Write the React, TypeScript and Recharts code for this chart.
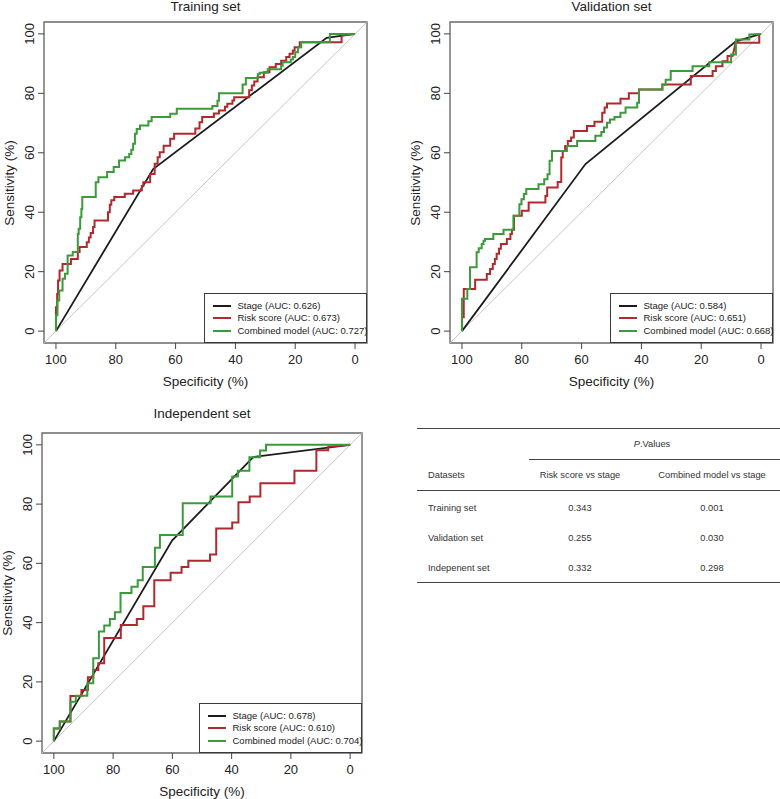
import React from 'react';
import { LineChart, Line, XAxis, YAxis, ReferenceArea, ReferenceLine } from 'recharts';

const FONT = '"Liberation Sans", Arial, Helvetica, sans-serif';

// ---------- data ----------
const tickValues = [0, 20, 40, 60, 80, 100];
const seriesNames = ['Stage', 'Risk score', 'Combined model'];
const seriesColors = ['#1c1c1c', '#b0292e', '#3b9a3b'];

const trainingAUC = ['0.626', '0.673', '0.727'];
const validationAUC = ['0.584', '0.651', '0.668'];
const independentAUC = ['0.678', '0.610', '0.704'];

// [specificity, sensitivity]
const trainingStage = [[100, 0], [67.5, 54.5], [9.5, 98.7], [0, 100]];
const trainingRisk = [
  [100, 0], [100, 8], [99.6, 8], [99.6, 12.5], [99.3, 12.5], [99.3, 17], [98.8, 17], [98.8, 20.4],
  [97.8, 20.4], [97.8, 22.6], [95, 22.6], [95, 24.3], [92.7, 24.3], [92.7, 26.6], [92.1, 26.6],
  [92.1, 28.3], [89.7, 28.3], [89.7, 29.9], [89, 29.9], [89, 31.5], [88.4, 31.5], [88.4, 33],
  [87.6, 33], [87.6, 35], [87.1, 35], [87.1, 37.2], [82.6, 37.2], [82.6, 40], [82, 40], [82, 42.5],
  [81.5, 42.5], [81.5, 44], [80.5, 44], [80.5, 45.1], [77, 45.1], [77, 46.2], [74.2, 46.2],
  [74.2, 47.3], [71.3, 47.3], [71.3, 48.8], [70.8, 48.8], [70.8, 50.1], [68.5, 50.1], [68.5, 52.9],
  [67, 52.9], [67, 56.3], [66, 56.3], [66, 58.5], [65.3, 58.5], [65.3, 60.2], [64, 60.2], [64, 62.4],
  [61.8, 62.4], [61.8, 64.7], [60.5, 64.7], [60.5, 66.4], [53.4, 66.4], [53.4, 68.2], [52, 68.2],
  [52, 70.3], [51.1, 70.3], [51.1, 72], [47.2, 72], [47.2, 73.2], [45.5, 73.2], [45.5, 74.2],
  [43.5, 74.2], [43.5, 75.5], [42.7, 75.5], [42.7, 76.5], [41, 76.5], [41, 77.6], [40.4, 77.6],
  [40.4, 78.7], [35.4, 78.7], [35.4, 81], [34.5, 81], [34.5, 82.6], [33.7, 82.6], [33.7, 84],
  [32.6, 84], [32.6, 85.4], [30.5, 85.4], [30.5, 87.1], [28.6, 87.1], [28.6, 88.8], [26.5, 88.8],
  [26.5, 89.9], [24.7, 89.9], [24.7, 91], [23, 91], [23, 92.2], [21.9, 92.2], [21.9, 93.3],
  [20.8, 93.3], [20.8, 94.4], [20.2, 94.4], [20.2, 95.5], [18.5, 95.5], [18.5, 97.2], [4.5, 97.2],
  [4.5, 99.5], [0, 100],
];
const trainingCombined = [
  [100, 0], [100, 5.3], [99.5, 5.3], [99.5, 10.3], [98.9, 10.3], [98.9, 13.7], [97.8, 13.7],
  [97.8, 17.6], [97, 17.6], [97, 19.3], [96.1, 19.3], [96.1, 25.4], [94.4, 25.4], [94.4, 26.6],
  [92.7, 26.6], [92.7, 32.7], [92.4, 32.7], [92.4, 34.4], [91.9, 34.4], [91.9, 38.3], [91.5, 38.3],
  [91.5, 41.1], [91.2, 41.1], [91.2, 45.1], [86.7, 45.1], [86.7, 50.1], [85.8, 50.1], [85.8, 51.8],
  [82.9, 51.8], [82.9, 53.5], [80.7, 53.5], [80.7, 55.2], [78.9, 55.2], [78.9, 57.4], [76.9, 57.4],
  [76.9, 58.5], [75.5, 58.5], [75.5, 59.6], [74.8, 59.6], [74.8, 61], [74.2, 61], [74.2, 63],
  [73.6, 63], [73.6, 66.4], [73, 66.4], [73, 68], [71.9, 68], [71.9, 69.2], [69.1, 69.2],
  [69.1, 70.6], [68, 70.6], [68, 72], [61.8, 72], [61.8, 73.1], [59.6, 73.1], [59.6, 74.8],
  [47.7, 74.8], [47.7, 75.7], [46, 75.7], [46, 77.5], [45.5, 77.5], [45.5, 80], [37.6, 80],
  [37.6, 83], [36.5, 83], [36.5, 85.2], [32.5, 85.2], [32.5, 86.4], [31.9, 86.4], [31.9, 86.9],
  [29.2, 86.9], [29.2, 88.1], [24.7, 88.1], [24.7, 89.3], [24.2, 89.3], [24.2, 90.5], [21.5, 90.5],
  [21.5, 91.4], [20.8, 91.4], [20.8, 92.2], [20, 92.2], [20, 93.8], [19.1, 93.8], [19.1, 95.5],
  [18, 95.5], [18, 97.2], [8.4, 97.2], [8.4, 100], [0, 100],
];

const validationStage = [[100, 0], [58.7, 56.2], [8.4, 97.5], [0, 100]];
const validationRisk = [
  [100, 0], [100, 4.7], [99.4, 4.7], [99.4, 14.2], [95.6, 14.2], [95.6, 17.3], [91.7, 17.3],
  [91.7, 19.2], [90.6, 19.2], [90.6, 20.9], [89.7, 20.9], [89.7, 22.6], [89, 22.6], [89, 24.3],
  [88.4, 24.3], [88.4, 26], [87.6, 26], [87.6, 27.7], [87, 27.7], [87, 29.3], [85, 29.3], [85, 31],
  [83.8, 31], [83.8, 32.7], [83.3, 32.7], [83.3, 34.1], [82.6, 34.1], [82.6, 38.8], [80, 38.8],
  [80, 40.5], [77.7, 40.5], [77.7, 43.3], [72.1, 43.3], [72.1, 45.5], [71.5, 45.5], [71.5, 48.3],
  [68, 48.3], [68, 50.2], [66.8, 50.2], [66.8, 58.4], [66.3, 58.4], [66.3, 60.6], [65.5, 60.6],
  [65.5, 62.3], [64.6, 62.3], [64.6, 64], [63.5, 64], [63.5, 65.1], [62.6, 65.1], [62.6, 67.3],
  [58.2, 67.3], [58.2, 69], [55.7, 69], [55.7, 70.4], [53.1, 70.4], [53.1, 73.5], [52.3, 73.5],
  [52.3, 75.2], [51.5, 75.2], [51.5, 76.6], [47, 76.6], [47, 78.2], [44.2, 78.2], [44.2, 80],
  [40.8, 80], [40.8, 81.3], [33, 81.3], [33, 83], [23.5, 83], [23.5, 85.8], [16.2, 85.8],
  [16.2, 87.5], [15.1, 87.5], [15.1, 89.1], [12.9, 89.1], [12.9, 90.8], [11.2, 90.8], [11.2, 92.6],
  [9.5, 92.6], [8.5, 97], [0.6, 97], [0.6, 99.8], [0, 100],
];
const validationCombined = [
  [100, 0], [100, 10.9], [98.2, 10.9], [98.2, 14.2], [97.3, 14.2], [97.3, 21.5], [95.1, 21.5],
  [95.1, 26.5], [94.4, 26.5], [94.4, 27.9], [93.4, 27.9], [93.4, 29.3], [92.8, 29.3], [92.8, 30.4],
  [92.3, 30.4], [92.3, 31], [89.5, 31], [89.5, 32.7], [86.1, 32.7], [86.1, 34.1], [82.8, 34.1],
  [82.8, 38.8], [80.8, 38.8], [80.8, 42.7], [80.1, 42.7], [80.1, 44.4], [79.3, 44.4], [79.3, 46.1],
  [78.5, 46.1], [78.5, 47.8], [74.4, 47.8], [74.4, 49.4], [72.5, 49.4], [72.5, 51.1], [71.4, 51.1],
  [71.4, 52.8], [70.7, 52.8], [70.7, 57.3], [69.9, 57.3], [69.9, 60.6], [64.9, 60.6], [64.9, 62.3],
  [61.5, 62.3], [61.5, 64], [55.4, 64], [55.4, 65.7], [53.4, 65.7], [53.4, 67], [52.5, 67],
  [52.5, 68.5], [51.5, 68.5], [51.5, 70.1], [50.5, 70.1], [50.5, 71.2], [49, 71.2], [49, 72],
  [47, 72], [47, 73.5], [45.3, 73.5], [45.3, 75.2], [41.4, 75.2], [41.4, 76.8], [40.8, 76.8],
  [40.8, 81.3], [33, 81.3], [33, 82.9], [31.9, 82.9], [31.9, 84.6], [30.2, 84.6], [30.2, 87.5],
  [22.9, 87.5], [22.9, 89.1], [17.3, 89.1], [17.3, 90.5], [10, 90.5], [10, 93.1], [8.4, 93.1],
  [8.4, 98.1], [3.9, 98.1], [3.9, 99.8], [0, 100],
];

const independentStage = [[100, 0], [60.1, 67.7], [32.7, 95.9], [0, 100]];
const independentRisk = [
  [100, 0], [100, 4.3], [98, 4.3], [98, 6.6], [94.4, 6.6], [94.4, 15.2], [90.7, 15.2], [90.7, 17.3],
  [88.5, 17.3], [88.5, 21.6], [86.7, 21.6], [86.7, 24], [85, 24], [85, 26.3], [83, 26.3], [83, 34.8],
  [77.4, 34.8], [77.4, 39.2], [72, 39.2], [72, 41.2], [69.8, 41.2], [69.8, 45.5], [66.1, 45.5],
  [66.1, 54.3], [60.6, 54.3], [60.6, 56.8], [56.9, 56.8], [56.9, 58.8], [54.6, 58.8], [54.6, 60.9],
  [47.3, 60.9], [47.3, 63], [45.2, 63], [45.2, 71.8], [39.8, 71.8], [39.8, 73.8], [37.7, 73.8],
  [37.7, 80.6], [33.9, 80.6], [33.9, 82.6], [30.3, 82.6], [30.3, 87], [18.8, 87], [18.8, 91.3],
  [11.4, 91.3], [11.4, 98.2], [7.4, 98.2], [7.4, 99.4], [0, 100],
];
const independentCombined = [
  [100, 0], [100, 4.3], [98, 4.3], [98, 6.6], [94.4, 6.6], [94.4, 13.3], [92.6, 13.3], [92.6, 15.3],
  [88.7, 15.3], [88.7, 19.5], [86.7, 19.5], [86.7, 28], [84.8, 28], [84.8, 37], [83, 37], [83, 39],
  [81.1, 39], [81.1, 41.2], [79.4, 41.2], [79.4, 43.5], [77.5, 43.5], [77.5, 50], [73.8, 50],
  [73.8, 52.1], [71.7, 52.1], [71.7, 54.3], [70, 54.3], [70, 58.8], [65.9, 58.8], [65.9, 65.3],
  [64.2, 65.3], [64.2, 69.6], [56.5, 69.6], [56.5, 80.3], [47.1, 80.3], [47.1, 82.6], [39.8, 82.6],
  [39.8, 89.3], [37.9, 89.3], [37.9, 91.3], [34, 91.3], [34, 95.8], [30.4, 95.8], [30.4, 98.1],
  [28.4, 98.1], [28.4, 100], [0, 100],
];

const tableDatasets = ['Training set', 'Validation set', 'Indepenent set'];
const tableRiskVsStage = ['0.343', '0.255', '0.332'];
const tableCombinedVsStage = ['0.001', '0.030', '0.298'];

// ---------- helpers ----------
const toPoints = (pairs: number[][]) => pairs.map(([spec, sens]) => ({ spec, sens }));

type TextProps = {
  cx: number; cy: number; text: React.ReactNode; size: number; rotate?: boolean;
  color?: string; align?: 'center' | 'left'; lh?: number;
};
function PlacedText({ cx, cy, text, size, rotate, color = '#222', align = 'center', lh }: TextProps) {
  const w = 300;
  const h = lh ?? Math.round(size * 1.3);
  const left = align === 'center' ? cx - w / 2 : cx;
  return (
    <div
      style={{
        position: 'absolute', left, top: cy - h / 2, width: w, height: h, lineHeight: `${h}px`,
        fontSize: size, fontFamily: FONT, color, textAlign: align, whiteSpace: 'nowrap',
        transform: rotate ? 'rotate(-90deg)' : undefined, transformOrigin: 'center center',
      }}
    >
      {text}
    </div>
  );
}

const XTick = (props: any) => {
  const { x, y, payload } = props;
  return (
    <text x={x} y={y + 14.5} textAnchor="middle" fontSize={13} fill="#222" fontFamily={FONT}>
      {payload.value}
    </text>
  );
};
const YTick = (props: any) => {
  const { x, y, payload } = props;
  const bx = x - 4;
  return (
    <text x={bx} y={y} textAnchor="middle" fontSize={13} fill="#222" fontFamily={FONT}
      transform={`rotate(-90 ${bx} ${y})`}>
      {payload.value}
    </text>
  );
};

type PanelLayout = {
  left: number; top: number; w: number; h: number; mTop: number; mRight: number; yW: number; xH: number;
  titleY: number;
};

function RocPanel({ title, curves, aucs, L }: { title: string; curves: number[][][]; aucs: string[]; L: PanelLayout }) {
  const boxL = L.left + L.yW;
  const boxR = L.left + L.w - L.mRight;
  const boxT = L.top + L.mTop;
  const boxB = L.top + L.h - L.xH;
  const cx = (boxL + boxR) / 2;
  const cy = (boxT + boxB) / 2;
  const legW = 163;
  const legH = 50;
  const legL = boxR - legW;
  const legT = boxB - legH;
  return (
    <>
      <div style={{ position: 'absolute', left: L.left, top: L.top }}>
        <LineChart width={L.w} height={L.h} margin={{ top: L.mTop, right: L.mRight, bottom: 0, left: 0 }}>
          <XAxis dataKey="spec" type="number" domain={[-4, 104]} reversed allowDataOverflow
            ticks={tickValues} interval={0} height={L.xH} axisLine={false}
            tickLine={{ stroke: '#444' }} tickSize={6} tickMargin={0} tick={XTick} />
          <YAxis dataKey="sens" type="number" domain={[-4, 104]} allowDataOverflow
            ticks={tickValues} interval={0} width={L.yW} axisLine={false}
            tickLine={{ stroke: '#444' }} tickSize={6} tickMargin={0} tick={YTick} />
          <ReferenceLine segment={[{ x: 104, y: -4 }, { x: -4, y: 104 }]} stroke="#c6c6c6"
            strokeWidth={1} ifOverflow="visible" />
          {curves.map((c, i) => (
            <Line key={seriesNames[i]} data={toPoints(c)} dataKey="sens" type="linear"
              stroke={seriesColors[i]} strokeWidth={i === 0 ? 1.8 : 2} dot={false} activeDot={false}
              isAnimationActive={false} />
          ))}
          <ReferenceArea x1={-4} x2={104} y1={-4} y2={104} fill="none" fillOpacity={0}
            stroke="#6a6a6a" strokeWidth={1.4} ifOverflow="visible" />
        </LineChart>
      </div>
      <PlacedText cx={cx} cy={L.titleY} text={title} size={13.5} lh={14} />
      <PlacedText cx={cx} cy={boxB + 38.7} text="Specificity (%)" size={13.5} />
      <PlacedText cx={boxL - 34} cy={cy} text="Sensitivity (%)" size={13.5} rotate />
      <div style={{
        position: 'absolute', left: legL, top: legT, width: legW, height: legH,
        border: '1px solid #3a3a3a', boxSizing: 'border-box', background: '#fff',
      }}>
        {seriesNames.map((n, i) => {
          const ry = 11.6 + i * 12.8;
          return (
            <React.Fragment key={n}>
              <div style={{
                position: 'absolute', left: 8, top: ry - 1, width: 18, height: 0,
                borderTop: `2px solid ${seriesColors[i]}`,
              }} />
              <PlacedText cx={32.5} cy={ry} text={`${n} (AUC: ${aucs[i]})`} size={9.5} align="left" />
            </React.Fragment>
          );
        })}
      </div>
    </>
  );
}

function PTable() {
  const line = (y: number, x1: number, x2: number) => (
    <div style={{ position: 'absolute', left: x1, top: y - 0.75, width: x2 - x1, height: 0, borderTop: '1.5px solid #444' }} />
  );
  const rowY = [508, 538, 568];
  return (
    <>
      {line(429, 417, 780)}
      {line(460, 529, 780)}
      {line(491, 417, 780)}
      {line(583, 417, 780)}
      <PlacedText cx={652} cy={444} size={9.3} color="#333" text={<span><i>P</i>.Values</span>} />
      <PlacedText cx={428} cy={475} size={9.3} color="#333" text="Datasets" align="left" />
      <PlacedText cx={580} cy={475} size={9.3} color="#333" text="Risk score vs stage" />
      <PlacedText cx={712} cy={475} size={9.3} color="#333" text="Combined model vs stage" />
      {tableDatasets.map((d, i) => (
        <React.Fragment key={d}>
          <PlacedText cx={428} cy={rowY[i]} size={9.3} color="#333" text={d} align="left" />
          <PlacedText cx={580} cy={rowY[i]} size={9.3} color="#333" text={tableRiskVsStage[i]} />
          <PlacedText cx={712} cy={rowY[i]} size={9.3} color="#333" text={tableCombinedVsStage[i]} />
        </React.Fragment>
      ))}
    </>
  );
}

export default function App() {
  return (
    <div style={{ position: 'absolute', left: 0, top: 0, width: 780, height: 799, background: '#fff', overflow: 'hidden' }}>
      <RocPanel title="Training set" curves={[trainingStage, trainingRisk, trainingCombined]} aucs={trainingAUC}
        L={{ left: 0, top: 0, w: 390, h: 399, mTop: 22, mRight: 23, yW: 44, xH: 56, titleY: 7 }} />
      <RocPanel title="Validation set" curves={[validationStage, validationRisk, validationCombined]} aucs={validationAUC}
        L={{ left: 390, top: 0, w: 390, h: 399, mTop: 22, mRight: 7, yW: 60, xH: 56, titleY: 7 }} />
      <RocPanel title="Independent set" curves={[independentStage, independentRisk, independentCombined]} aucs={independentAUC}
        L={{ left: 0, top: 399, w: 390, h: 400, mTop: 34, mRight: 28, yW: 42, xH: 46, titleY: 414.3 }} />
      <PTable />
    </div>
  );
}
